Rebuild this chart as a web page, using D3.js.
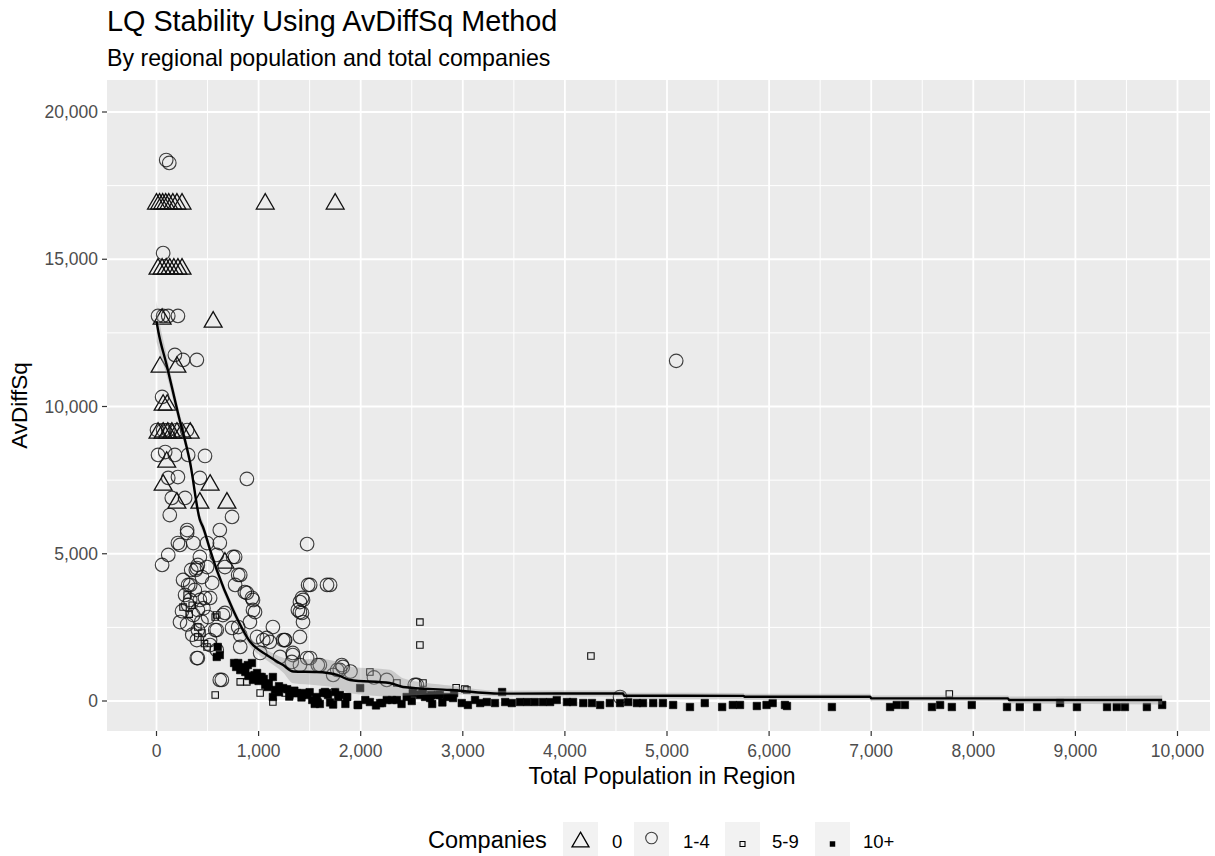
<!DOCTYPE html>
<html><head><meta charset="utf-8">
<script src="https://cdn.jsdelivr.net/npm/d3@7"></script>
<style>body{margin:0;background:#fff}svg{display:block;font-family:"Liberation Sans",Arial,sans-serif}</style>
</head><body><svg id="c" width="1215" height="856"></svg>
<script>
// ---- data ----
const title = "LQ Stability Using AvDiffSq Method";
const subtitle = "By regional population and total companies";
const xTitle = "Total Population in Region";
const yTitle = "AvDiffSq";
const legendTitle = "Companies";
const categories = ["0","1-4","5-9","10+"];
const xTicks = [0,1000,2000,3000,4000,5000,6000,7000,8000,9000,10000];
const yTicks = [0,5000,10000,15000,20000];

// 0 companies (triangles)
const triX = [0,30,60,90,120,160,200,250,1065,1750, 15,55,95,130,170,210,250, 55,555, 35,200, 65,105, 15,65,110,150,200,250,330, 100, 65,525, 200,425,690, 670];
const triY = [16880,16880,16880,16880,16880,16880,16880,16880,16880,16880, 14670,14670,14670,14670,14670,14670,14670, 12970,12870, 11340,11340, 10050,10050, 9100,9100,9100,9100,9100,9100,9100, 8115, 7335,7335, 6725,6725,6725, 4690];

// 1-4 companies (circles)
const circX = [95,125,65,15,65,115,210,55,180,260,395,5,65,115,200,300,15,85,180,310,475,115,210,425,885,150,280,130,740,300,620,210,360,495,620,1475,115,55,425,770,395,495,670,820,445,310,545,1505,1670,885,945,1435,525,330,965,1405,670,230,915,1435,1140,590,740,395,525,1405,1045,1240,820,395,620,1335,1505,1600,1405,1425,1255,1110,1475,1815,1795,2255,2550,4540,5090,
  230,300,405,385,590,750,800,770,865,935,945,800,650,575,405,525,590,405,640,820,985,1080,1260,1335,1580,1825,1770,2530,1730,1485,1700,1425,1385,1015,1210,1325,1405,1900,2130,
  260,330,280,375,425,310,405,475,360,505,300,350,440,460,250,340];
const circY = [18370,18270,15210,13075,13075,13075,13075,10325,11750,11580,11580,9200,9200,9200,9200,9200,8355,8455,8355,8355,8320,7575,7605,7575,7540,6895,6895,6315,6250,5805,5805,5365,5365,5365,5365,5330,4960,4620,4890,4890,4515,4550,4550,4280,4210,3940,4010,3940,3940,3670,3430,3430,3500,3430,3020,3020,2990,2680,2680,2680,2510,2410,2480,2070,2070,2175,2070,2070,1835,1460,715,1630,1460,1220,3360,2990,2070,2005,1460,1220,1055,715,545,135,11550,
  5300,5705,4620,4450,4960,4890,4280,3940,3700,3500,3090,2510,2920,2410,2410,1900,1730,1460,715,2240,2175,2140,2070,1560,1220,1155,1055,545,885,3940,3940,3500,3090,1630,1495,1325,1220,1000,800,
  4110,3940,3600,3770,3430,3260,3090,3500,2920,2850,2600,2250,2700,3150,3050,4450];

// 5-9 companies (hollow squares)
const sqX = [575,405,445,260,590,405,495,2580,2580,2090,3040,2355,575,820,885,1015,1140,1260,1325,1870,4255,7765,3020,2610,1305,2935,300,350,320,470];
const sqY = [2850,2510,2310,3190,2920,2175,1835,2680,1900,985,375,610,205,650,650,270,-35,270,270,135,1530,240,410,610,205,450,3600,3250,2950,1950];

// 10+ companies (filled squares)
const fsqX = [600,590,620,800,840,865,895,985,1030,1090,1140,1375,1435,1475,1525,1570,1630,1680,945,1140,
  1425,1670,1795,1970,2090,2210,2305,935,1015,1065,1160,1240,1355,1650,1750,1780,1865,1995,1975,2045,2190,2255,2355,2450,2510,2580,2630,2690,2775,2845,2915,
  2610,2680,2755,2905,2990,3050,3120,3170,3235,3315,3385,3415,3480,3560,3630,3705,3785,3855,3920,4020,4080,4180,4265,4345,4440,4540,4620,4705,4765,4865,4960,5060,5225,5370,5540,5645,5715,5880,5975,6035,6155,6175,
  6615,7185,7250,7330,7595,7675,7790,7985,8330,8455,8625,8850,9015,9310,9405,9485,9700,9850,
  1600,1700,1850,2150,2400,2500,2700,2800,1200,1300,1550,
  760,780,820,870,900,960,1000,1050,1100,1200,1280,1350,1420,1500,1580,1730];
const fsqY = [1835,1495,1560,1290,1120,1155,1220,950,815,475,135,270,270,205,35,135,270,205,715,815,
  205,270,205,-135,-35,-70,35,1290,815,545,375,440,270,305,305,135,135,440,-135,35,-70,35,35,135,270,205,135,205,205,135,270,
  270,100,205,100,-70,-135,35,-70,-35,-70,305,-35,-70,-35,-35,-35,-35,-35,35,-35,-35,-70,-70,-135,-70,-70,-35,-70,-70,-70,-70,-135,-205,-70,-205,-135,-135,-170,-135,-70,-135,-170,
  -205,-205,-135,-135,-205,-135,-205,-135,-205,-205,-205,-70,-205,-205,-205,-205,-205,-135,
  -100,-50,-100,-150,-100,0,-100,-50,300,150,-100,
  1290,1155,1050,985,850,880,680,750,600,500,400,350,120,300,-50,-120];

// smoother (loess fit) and its confidence band
const fitX  = [0,15,100,210,330,425,455,525,590,750,915,1080,1240,1340,1570,1770,1895,2285,2415,2875,3365,4570,4580,5750,5760,6990,7000,8340,8350,9850];
const fitY  = [12900,12600,11400,9780,8080,6150,5910,5130,4450,3090,2020,1560,1220,1000,985,885,715,610,475,375,250,255,180,175,145,145,90,90,35,35];
const fitLo = [12200,12000,11050,9530,7880,5970,5730,4960,4290,2940,1870,1380,970,600,535,435,265,160,175,225,150,155,80,75,45,45,-10,-10,-85,-115];
const fitHi = [13600,13200,11750,10030,8280,6330,6090,5300,4610,3240,2170,1740,1470,1400,1435,1335,1165,1060,775,525,350,355,280,275,245,245,190,190,155,185];

// ---- layout ----
const svg = d3.select("#c");
const P = {l:107, t:80, r:1210, b:731};
const x = d3.scaleLinear().domain([0,10000]).range([156.5,1177.5]);
const y = d3.scaleLinear().domain([0,20000]).range([701,112]);
const fmt = d3.format(",");

svg.append("rect").attr("x",P.l).attr("y",P.t).attr("width",P.r-P.l).attr("height",P.b-P.t).attr("fill","#EBEBEB");
svg.append("clipPath").attr("id","pc").append("rect").attr("x",P.l).attr("y",P.t).attr("width",P.r-P.l).attr("height",P.b-P.t);

// grid
const xMinor = xTicks.slice(0,-1).map(v=>v+500).concat([-500,10500]);
const yMinor = [-2500,2500,7500,12500,17500];
const g = svg.append("g").attr("clip-path","url(#pc)");
g.selectAll(".vx").data(xMinor).join("line").attr("x1",d=>x(d)).attr("x2",d=>x(d)).attr("y1",P.t).attr("y2",P.b).attr("stroke","#fff").attr("stroke-width",1);
g.selectAll(".hy").data(yMinor).join("line").attr("y1",d=>y(d)).attr("y2",d=>y(d)).attr("x1",P.l).attr("x2",P.r).attr("stroke","#fff").attr("stroke-width",1);
g.selectAll(".Vx").data(xTicks).join("line").attr("x1",d=>x(d)).attr("x2",d=>x(d)).attr("y1",P.t).attr("y2",P.b).attr("stroke","#fff").attr("stroke-width",1.8);
g.selectAll(".Hy").data(yTicks).join("line").attr("y1",d=>y(d)).attr("y2",d=>y(d)).attr("x1",P.l).attr("x2",P.r).attr("stroke","#fff").attr("stroke-width",1.8);

// points
const stroke = "#111";
const tri = d3.symbol().type(d3.symbolTriangle).size(138);
const sq = d3.symbol().type(d3.symbolSquare).size(42);
const fsq = d3.symbol().type(d3.symbolSquare).size(56);
const pts = g.append("g");
pts.selectAll(".c").data(circX.map((v,i)=>[v,circY[i]])).join("circle")
  .attr("cx",d=>x(d[0])).attr("cy",d=>y(d[1])).attr("r",6.8)
  .attr("fill","none").attr("stroke",stroke).attr("stroke-opacity",0.8).attr("stroke-width",1.15);
pts.selectAll(".t").data(triX.map((v,i)=>[v,triY[i]])).join("path")
  .attr("d",tri).attr("transform",d=>`translate(${x(d[0])},${y(d[1])})`)
  .attr("fill","none").attr("stroke",stroke).attr("stroke-width",1.3);
pts.selectAll(".s").data(sqX.map((v,i)=>[v,sqY[i]])).join("path")
  .attr("d",sq).attr("transform",d=>`translate(${x(d[0])},${y(d[1])})`)
  .attr("fill","none").attr("stroke",stroke).attr("stroke-width",1.1);
pts.selectAll(".f").data(fsqX.map((v,i)=>[v,fsqY[i]])).join("path")
  .attr("d",fsq).attr("transform",d=>`translate(${x(d[0])},${y(d[1])})`)
  .attr("fill","#000").attr("stroke","#000").attr("stroke-width",0.6);

// ribbon + line
const fit = fitX.map((v,i)=>({x:v,y:fitY[i],lo:fitLo[i],hi:fitHi[i]}));
g.append("path").datum(fit).attr("d",d3.area().curve(d3.curveMonotoneX).x(d=>x(d.x)).y0(d=>y(d.lo)).y1(d=>y(d.hi)))
  .attr("fill","#999").attr("fill-opacity",0.4);
g.append("path").datum(fit).attr("d",d3.line().curve(d3.curveMonotoneX).x(d=>x(d.x)).y(d=>y(d.y)))
  .attr("fill","none").attr("stroke","#000").attr("stroke-width",2.4);

// axes
const tickCol = "#333", labCol = "#4D4D4D";
svg.selectAll(".xt").data(xTicks).join("line").attr("x1",d=>x(d)).attr("x2",d=>x(d)).attr("y1",P.b).attr("y2",P.b+5).attr("stroke",tickCol).attr("stroke-width",1.2);
svg.selectAll(".xl").data(xTicks).join("text").attr("x",d=>x(d)).attr("y",P.b+26).attr("text-anchor","middle")
  .attr("font-size",17.5).attr("fill",labCol).text(d=>fmt(d));
svg.selectAll(".yt").data(yTicks).join("line").attr("y1",d=>y(d)).attr("y2",d=>y(d)).attr("x1",P.l-5).attr("x2",P.l).attr("stroke",tickCol).attr("stroke-width",1.2);
svg.selectAll(".yl").data(yTicks).join("text").attr("x",P.l-9).attr("y",d=>y(d)+6).attr("text-anchor","end")
  .attr("font-size",17.5).attr("fill",labCol).text(d=>fmt(d));

svg.append("text").attr("x",662).attr("y",784).attr("text-anchor","middle").attr("font-size",23).attr("fill","#000").text(xTitle);
svg.append("text").attr("transform",`translate(27,${(P.t+P.b)/2}) rotate(-90)`).attr("text-anchor","middle").attr("font-size",22.5).attr("fill","#000").text(yTitle);
svg.append("text").attr("x",107).attr("y",31).attr("font-size",28.8).attr("fill","#000").text(title);
svg.append("text").attr("x",107).attr("y",66).attr("font-size",23.2).attr("fill","#000").text(subtitle);

// legend
const L = svg.append("g");
L.append("text").attr("x",428).attr("y",848).attr("font-size",23.5).attr("fill","#000").text(legendTitle);
const keyX = [563,634,725,815];
const labX = [612,683,772,863];
categories.forEach((c,i)=>{
  L.append("rect").attr("x",keyX[i]).attr("y",822).attr("width",35).attr("height",40).attr("fill","#F2F2F2");
  const cx = keyX[i]+17.5;
  if(i===0) L.append("path").attr("d",d3.symbol().type(d3.symbolTriangle).size(125)()).attr("transform",`translate(${cx},${842})`).attr("fill","none").attr("stroke","#000").attr("stroke-width",1.3);
  if(i===1) L.append("circle").attr("cx",cx).attr("cy",838).attr("r",5.8).attr("fill","none").attr("stroke","#111").attr("stroke-opacity",0.8).attr("stroke-width",1.1);
  if(i===2) L.append("path").attr("d",d3.symbol().type(d3.symbolSquare).size(25)()).attr("transform",`translate(${cx},${844})`).attr("fill","none").attr("stroke","#000").attr("stroke-width",1.1);
  if(i===3) L.append("path").attr("d",d3.symbol().type(d3.symbolSquare).size(30)()).attr("transform",`translate(${cx},${844})`).attr("fill","#000");
  L.append("text").attr("x",labX[i]).attr("y",848).attr("font-size",18.5).attr("fill","#000").text(c);
});
</script></body></html>
